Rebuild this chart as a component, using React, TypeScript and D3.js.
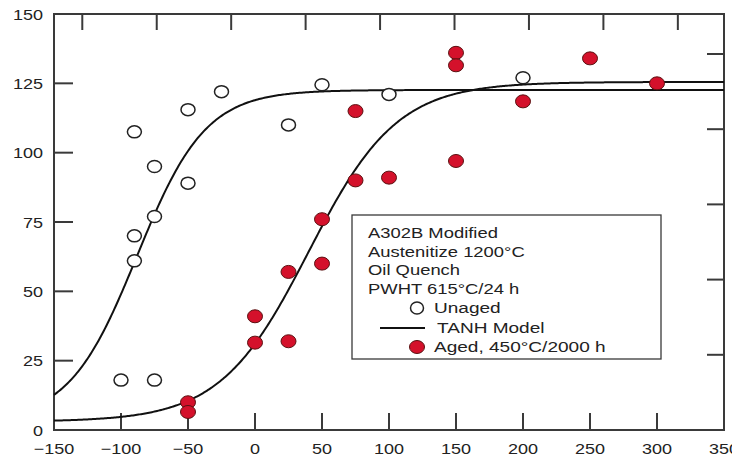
import React from "react";
import * as d3 from "d3";

// ---- data ----
const unagedT = [-100, -75, -90, -90, -75, -90, -75, -50, -50, -25, 25, 50, 100, 200];
const unagedE = [18, 18, 61, 70, 77, 107.5, 95, 89, 115.5, 122, 110, 124.5, 121, 127];

const agedT = [-50, -50, 0, 0, 25, 25, 50, 50, 75, 75, 100, 150, 150, 150, 200, 250, 300];
const agedE = [10, 6.5, 41, 31.5, 32, 57, 76, 60, 90, 115, 91, 136, 131.5, 97, 118.5, 134, 125];

// TANH model parameters: [lower shelf, upper shelf, T0, C]
const unagedModel = [3, 122.6, -88, 51];
const agedModel = [3, 125.5, 40, 66];

const xTicks = [-150, -100, -50, 0, 50, 100, 150, 200, 250, 300, 350];
const yTicks = [0, 25, 50, 75, 100, 125, 150];
const topTicksF = [-200, -100, 0, 100, 200, 300, 400, 500, 600];
const rightTicksFtLb = [20, 40, 60, 80, 100];

const legendLines = ["A302B Modified", "Austenitize 1200°C", "Oil Quench", "PWHT 615°C/24 h"];
const legendItems = ["Unaged", "TANH Model", "Aged, 450°C/2000 h"];

const W = 732;
const H = 459;
const FONT = "'Liberation Sans', Arial, Helvetica, sans-serif";
const RED = "#d4112b";
const TICK_SX = 1.2;
const LEG_SX = 1.27;

function SText(props: {
  x: number;
  y: number;
  sx: number;
  size: number;
  anchor?: string;
  children: React.ReactNode;
}) {
  return (
    <text
      transform={`translate(${props.x},${props.y}) scale(${props.sx},1)`}
      textAnchor={props.anchor || "start"}
      fontSize={props.size}
      fill="#222"
    >
      {props.children}
    </text>
  );
}

export default function App() {
  const x = d3.scaleLinear().domain([-150, 350]).range([54, 724]);
  const y = d3.scaleLinear().domain([0, 150]).range([430, 14]);
  const [x0, x1] = x.range();
  const [yb, yt] = y.range();

  const tanh = (m: number[]) => (t: number) =>
    m[0] + ((m[1] - m[0]) / 2) * (1 + Math.tanh((t - m[2]) / m[3]));
  const temps = d3.range(-150, 350.5, 1);
  const uPath =
    d3
      .line<number>()
      .x((t) => x(t))
      .y((t) => y(tanh(unagedModel)(t)))(temps) || "";
  const aPath =
    d3
      .line<number>()
      .x((t) => x(t))
      .y((t) => y(tanh(agedModel)(t)))(temps) || "";

  const fToC = (f: number) => ((f - 32) * 5) / 9;
  const ftlbToJ = (v: number) => v * 1.35582;

  const axisColor = "#3a3a3a";

  return (
    <svg
      width={W}
      height={H}
      style={{ position: "absolute", left: 0, top: 0, background: "#fff" }}
      fontFamily={FONT}
    >
      <rect x={0} y={0} width={W} height={H} fill="#fff" />
      {/* frame */}
      <rect x={x0} y={yt} width={x1 - x0} height={yb - yt} fill="none" stroke={axisColor} strokeWidth={2} />
      {/* bottom ticks */}
      {xTicks
        .filter((t) => t > -150 && t < 350)
        .map((t) => (
          <line key={"bt" + t} x1={x(t)} x2={x(t)} y1={yb} y2={yb - 17} stroke={axisColor} strokeWidth={2} />
        ))}
      {/* left ticks */}
      {yTicks
        .filter((v) => v > 0 && v < 150)
        .map((v) => (
          <line key={"lt" + v} x1={x0} x2={x0 + 19} y1={y(v)} y2={y(v)} stroke={axisColor} strokeWidth={2} />
        ))}
      {/* top ticks (°F) */}
      {topTicksF.map((f) => (
        <line key={"tt" + f} x1={x(fToC(f))} x2={x(fToC(f))} y1={yt} y2={yt + 16} stroke={axisColor} strokeWidth={2} />
      ))}
      {/* right ticks (ft-lb) */}
      {rightTicksFtLb.map((v) => (
        <line key={"rt" + v} x1={x1} x2={x1 - 17} y1={y(ftlbToJ(v))} y2={y(ftlbToJ(v))} stroke={axisColor} strokeWidth={2} />
      ))}
      {/* x labels */}
      {xTicks.map((t) => (
        <SText key={"xl" + t} x={x(t)} y={454} sx={TICK_SX} size={15} anchor="middle">
          {t < 0 ? "\u2212" + Math.abs(t) : String(t)}
        </SText>
      ))}
      {/* y labels */}
      {yTicks.map((v) => (
        <SText key={"yl" + v} x={43} y={y(v) + 5.5} sx={TICK_SX} size={15} anchor="end">
          {v}
        </SText>
      ))}
      {/* model curves */}
      <path d={uPath} fill="none" stroke="#111" strokeWidth={2} />
      <path d={aPath} fill="none" stroke="#111" strokeWidth={2} />
      {/* unaged points */}
      {unagedT.map((t, i) => (
        <ellipse key={"u" + i} cx={x(t)} cy={y(unagedE[i])} rx={7} ry={6} fill="#fff" stroke="#222" strokeWidth={1.5} />
      ))}
      {/* aged points */}
      {agedT.map((t, i) => (
        <ellipse key={"a" + i} cx={x(t)} cy={y(agedE[i])} rx={7.5} ry={6.5} fill={RED} stroke="#5a1010" strokeWidth={1} />
      ))}
      {/* legend */}
      <rect x={352} y={215} width={309} height={144} fill="#fff" stroke={axisColor} strokeWidth={1.3} />
      {legendLines.map((s, i) => (
        <SText key={"lg" + i} x={368} y={238 + i * 18.7} sx={LEG_SX} size={14.5}>
          {s}
        </SText>
      ))}
      <ellipse cx={417} cy={308} rx={6.5} ry={6} fill="#fff" stroke="#222" strokeWidth={1.5} />
      <SText x={434} y={313} sx={LEG_SX} size={15}>
        {legendItems[0]}
      </SText>
      <line x1={380} x2={425} y1={328} y2={328} stroke="#111" strokeWidth={2} />
      <SText x={437} y={333} sx={LEG_SX} size={15}>
        {legendItems[1]}
      </SText>
      <ellipse cx={417} cy={347} rx={7.5} ry={6.5} fill={RED} stroke="#5a1010" strokeWidth={1} />
      <SText x={434} y={352} sx={LEG_SX} size={15}>
        {legendItems[2]}
      </SText>
    </svg>
  );
}
